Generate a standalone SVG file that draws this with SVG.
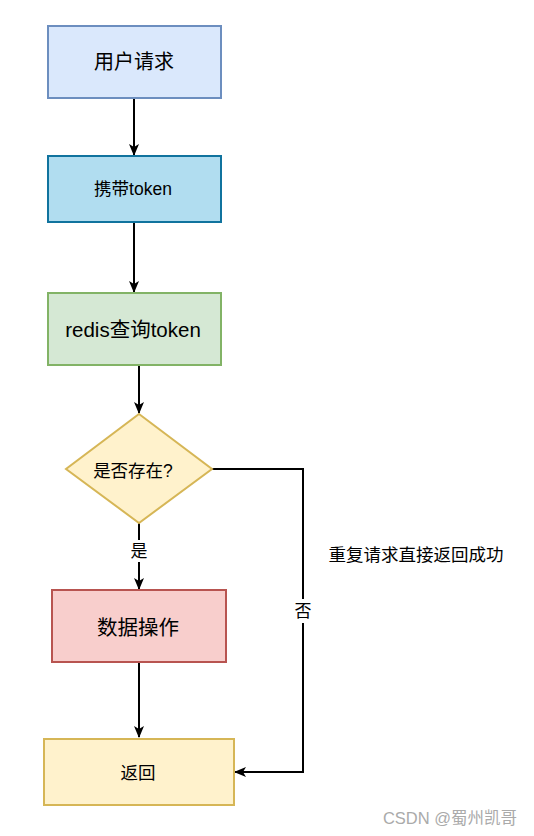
<svg xmlns="http://www.w3.org/2000/svg" width="534" height="836" viewBox="0 0 534 836">
<style>
text{font-family:"Liberation Sans","Noto Sans CJK SC",sans-serif;fill:#000;text-anchor:middle;dominant-baseline:central}
.n{stroke-width:2}
.c{fill:none;stroke:#000;stroke-width:2}
</style>
<defs>
<marker id="ah" viewBox="0 0 12 10" refX="11" refY="5" markerWidth="12" markerHeight="10" markerUnits="userSpaceOnUse" orient="auto">
<path d="M0,0 L12,5 L0,10 L3,5 Z" fill="#000"/>
</marker>
</defs>
<rect width="534" height="836" fill="#fff"/>
<g id="connectors">
<path class="c" d="M134,98 V155" marker-end="url(#ah)"/>
<path class="c" d="M134,222 V292" marker-end="url(#ah)"/>
<path class="c" d="M139,365 V413" marker-end="url(#ah)"/>
<path class="c" d="M139,523 V589" marker-end="url(#ah)"/>
<path class="c" d="M139,662 V737" marker-end="url(#ah)"/>
<path class="c" d="M212,469 H303 V772 H235" marker-end="url(#ah)"/>
<rect x="293" y="599" width="20" height="24" fill="#fff"/>
<text x="303" y="611" font-size="17">否</text>
<rect x="129" y="540" width="20" height="22" fill="#fff"/>
<text x="139" y="551" font-size="17">是</text>
</g>
<g id="n1"><rect class="n" x="48" y="26" width="173" height="72" fill="#dae8fc" stroke="#6c8ebf"/><text x="134" y="62" font-size="20">用户请求</text></g>
<g id="n2"><rect class="n" x="48" y="156" width="173" height="66" fill="#b1ddf0" stroke="#10739e"/><text x="133" y="189" font-size="17.5">携带token</text></g>
<g id="n3"><rect class="n" x="48" y="293" width="173" height="72" fill="#d5e8d4" stroke="#82b366"/><text x="133" y="329" font-size="20.5">redis查询token</text></g>
<g id="n4"><path class="n" d="M139,414 L212,469 L139,523 L66,469 Z" fill="#fff2cc" stroke="#d6b656"/><text x="133" y="471" font-size="17.5">是否存在?</text></g>
<g id="n5"><rect class="n" x="52" y="590" width="174" height="72" fill="#f8cecc" stroke="#b85450"/><text x="138" y="627" font-size="20.5">数据操作</text></g>
<g id="n6"><rect class="n" x="44" y="739" width="190" height="66" fill="#fff2cc" stroke="#d6b656"/><text x="138" y="773" font-size="17.5">返回</text></g>
<text x="416" y="555" font-size="17.5">重复请求直接返回成功</text>
<text x="450" y="818" font-size="16.5" style="fill:#aaa">CSDN @蜀州凯哥</text>
</svg>
